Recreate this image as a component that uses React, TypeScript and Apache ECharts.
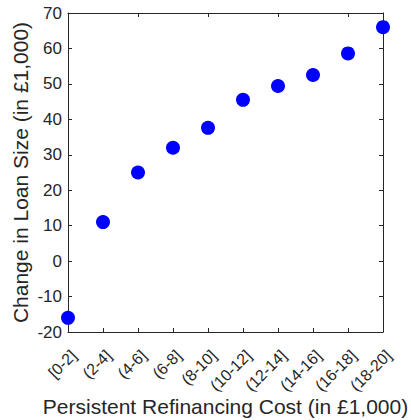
import React, { useEffect, useRef } from "react";
import * as echarts from "echarts";

const categories = ["[0-2]", "(2-4]", "(4-6]", "(6-8]", "(8-10]", "(10-12]", "(12-14]", "(14-16]", "(16-18]", "(18-20]"];
const values = [-16, 11, 25, 32, 37.6, 45.5, 49.4, 52.5, 58.6, 66];
const yMin = -20;
const yMax = 70;
const yInterval = 10;

const TXT = "#262626";
const FONT = "Liberation Sans, Arial, Helvetica, sans-serif";

export default function App() {
  const ref = useRef<HTMLDivElement>(null);
  useEffect(() => {
    if (!ref.current) return;
    const chart = echarts.init(ref.current, undefined, { renderer: "svg" });
    const axisLine = { show: true, onZero: false, lineStyle: { color: TXT, width: 1 } };
    const axisTick = { show: true, inside: true, length: 4, lineStyle: { color: TXT, width: 1 } };
    chart.setOption({
      animation: false,
      backgroundColor: "#ffffff",
      textStyle: { fontFamily: FONT },
      grid: { left: 68, right: 28, top: 13, bottom: 88, containLabel: false, outerBoundsMode: "none" },
      xAxis: [
        {
          type: "category",
          data: categories,
          boundaryGap: false,
          position: "bottom",
          axisLine,
          axisTick: { ...axisTick, alignWithLabel: true },
          axisLabel: {
            rotate: 45,
            fontSize: 16,
            color: TXT,
            fontFamily: FONT,
            margin: 15,
            interval: 0,
            verticalAlign: "top",
          },
          splitLine: { show: false },
          name: "Persistent Refinancing Cost (in £1,000)",
          nameLocation: "middle",
          nameGap: 64,
          nameMoveOverlap: false,
          nameTextStyle: { fontSize: 21, color: TXT, fontFamily: FONT },
        },
        {
          type: "category",
          data: categories,
          boundaryGap: false,
          position: "top",
          axisLine,
          axisTick,
          axisLabel: { show: false },
          splitLine: { show: false },
        },
      ],
      yAxis: [
        {
          type: "value",
          min: yMin,
          max: yMax,
          interval: yInterval,
          position: "left",
          axisLine,
          axisTick,
          axisLabel: { fontSize: 17, color: TXT, fontFamily: FONT, margin: 6 },
          splitLine: { show: false },
          name: "Change in Loan Size (in £1,000)",
          nameLocation: "middle",
          nameGap: 37,
          nameMoveOverlap: false,
          nameTextStyle: { fontSize: 21, color: TXT, fontFamily: FONT },
        },
        {
          type: "value",
          min: yMin,
          max: yMax,
          interval: yInterval,
          position: "right",
          axisLine,
          axisTick,
          axisLabel: { show: false },
          splitLine: { show: false },
        },
      ],
      series: [
        {
          type: "scatter",
          data: values,
          symbol: "circle",
          symbolSize: 14,
          itemStyle: { color: "#0000ff", opacity: 1 },
        },
      ],
    });
    return () => chart.dispose();
  }, []);
  return <div ref={ref} style={{ position: "fixed", left: 0, top: 0, width: 411, height: 420 }} />;
}
